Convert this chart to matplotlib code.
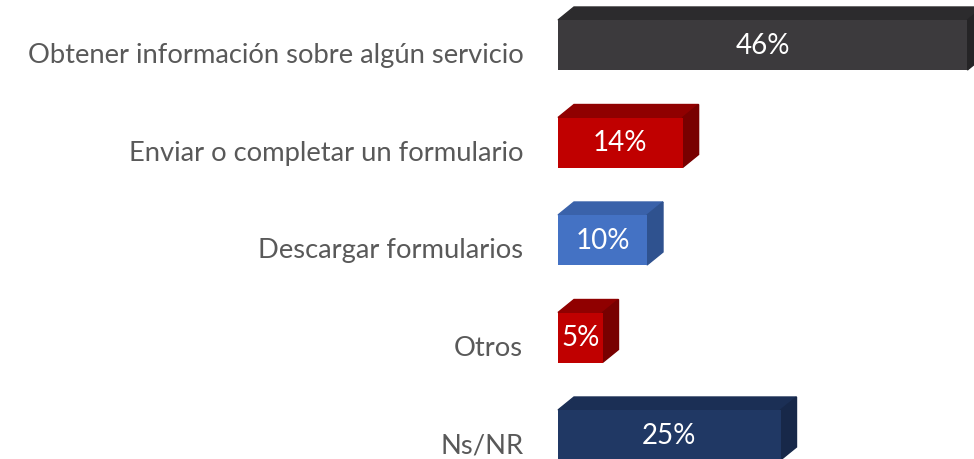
import matplotlib.pyplot as plt
from matplotlib.patches import Polygon

categories = ["Obtener información sobre algún servicio",
              "Enviar o completar un formulario",
              "Descargar formularios",
              "Otros",
              "Ns/NR"]
values = [46, 14, 10, 5, 25]
value_labels = ["46%", "14%", "10%", "5%", "25%"]

front_colors = ["#3c3a3d", "#c00000", "#4472c4", "#c00000", "#203864"]
top_colors = ["#2c2b2d", "#900000", "#3a62aa", "#900000", "#1b2f55"]
side_colors = ["#252426", "#780000", "#2f528f", "#780000", "#172849"]

W, H = 974, 459
px_per_pct = 8.9      # pixels per percent point
pitch = 97.5          # pixels between bars
x0_px = 558           # left edge of bars
y0_px = 45            # centre of first bar from top
bar_h = 50 / pitch
depth_x = 16 / px_per_pct
depth_y = 13 / pitch

fig = plt.figure(figsize=(W / 100, H / 100), dpi=100)
ax = fig.add_axes([x0_px / W, 0, (W - x0_px) / W, 1])
ax.set_xlim(0, (W - x0_px) / px_per_pct)
ax.set_ylim((H - y0_px) / pitch, -y0_px / pitch)
ax.axis("off")

ypos = list(range(len(categories)))
bars = ax.barh(ypos, values, height=bar_h, color=front_colors, zorder=3)

for i, b in enumerate(bars):
    x_l, x_r = b.get_x(), b.get_x() + b.get_width()
    y_t = b.get_y()
    y_b = y_t + b.get_height()
    top = Polygon([(x_l, y_t), (x_r, y_t), (x_r + depth_x, y_t - depth_y),
                   (x_l + depth_x, y_t - depth_y)], closed=True,
                  color=top_colors[i], zorder=2, clip_on=False)
    side = Polygon([(x_r, y_t), (x_r + depth_x, y_t - depth_y),
                    (x_r + depth_x, y_b - depth_y), (x_r, y_b)], closed=True,
                   color=side_colors[i], zorder=2, clip_on=False)
    ax.add_patch(top)
    ax.add_patch(side)
    ax.text(x_l + b.get_width() / 2, ypos[i] + 0.01, value_labels[i],
            ha="center", va="center", color="white", fontsize=20,
            family="Lato", zorder=4)
    ax.text(-3.9, ypos[i] + 0.11, categories[i], ha="right", va="center",
            color="#595959", fontsize=19.7, family="Lato", clip_on=False)

fig.savefig("out.png", dpi=100)
